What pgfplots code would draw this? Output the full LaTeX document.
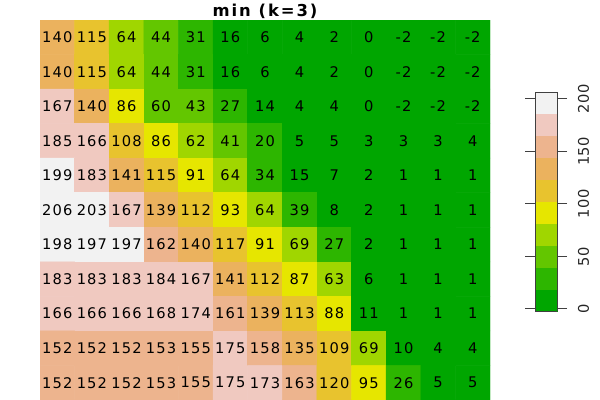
\documentclass[border=0pt]{standalone}
\usepackage{fontspec}
\setmainfont{DejaVu Sans}
\newfontfamily\cellfont{DejaVu Sans}[LetterSpace=8]
\newfontfamily\tickfont{DejaVu Sans}[LetterSpace=4]
\usepackage{pgfplots}
\usepackage{pgfplotstable}
\pgfplotsset{compat=1.18}
\pgfkeys{/pgf/number format/assume math mode=true}

\pgfplotstableread{
x y c
0 0 140
1 0 115
2 0 64
3 0 44
4 0 31
5 0 16
6 0 6
7 0 4
8 0 2
9 0 0
10 0 -2
11 0 -2
12 0 -2
0 1 140
1 1 115
2 1 64
3 1 44
4 1 31
5 1 16
6 1 6
7 1 4
8 1 2
9 1 0
10 1 -2
11 1 -2
12 1 -2
0 2 167
1 2 140
2 2 86
3 2 60
4 2 43
5 2 27
6 2 14
7 2 4
8 2 4
9 2 0
10 2 -2
11 2 -2
12 2 -2
0 3 185
1 3 166
2 3 108
3 3 86
4 3 62
5 3 41
6 3 20
7 3 5
8 3 5
9 3 3
10 3 3
11 3 3
12 3 4
0 4 199
1 4 183
2 4 141
3 4 115
4 4 91
5 4 64
6 4 34
7 4 15
8 4 7
9 4 2
10 4 1
11 4 1
12 4 1
0 5 206
1 5 203
2 5 167
3 5 139
4 5 112
5 5 93
6 5 64
7 5 39
8 5 8
9 5 2
10 5 1
11 5 1
12 5 1
0 6 198
1 6 197
2 6 197
3 6 162
4 6 140
5 6 117
6 6 91
7 6 69
8 6 27
9 6 2
10 6 1
11 6 1
12 6 1
0 7 183
1 7 183
2 7 183
3 7 184
4 7 167
5 7 141
6 7 112
7 7 87
8 7 63
9 7 6
10 7 1
11 7 1
12 7 1
0 8 166
1 8 166
2 8 166
3 8 168
4 8 174
5 8 161
6 8 139
7 8 113
8 8 88
9 8 11
10 8 1
11 8 1
12 8 1
0 9 152
1 9 152
2 9 152
3 9 153
4 9 155
5 9 175
6 9 158
7 9 135
8 9 109
9 9 69
10 9 10
11 9 4
12 9 4
0 10 152
1 10 152
2 10 152
3 10 153
4 10 155
5 10 175
6 10 173
7 10 163
8 10 120
9 10 95
10 10 26
11 10 5
12 10 5
}\datatable

\begin{document}
\begin{tikzpicture}[x=1pt,y=1pt]
\useasboundingbox (0,0) rectangle (450,300);
\begin{axis}[
  at={(30pt,0pt)}, anchor=south west,
  scale only axis, width=337.5pt, height=285pt,
  xmin=-0.5, xmax=12.5, ymin=-0.5, ymax=10.5, y dir=reverse,
  hide axis,
  title={min (k=3)},
  title style={at={(0.5,1)}, anchor=base, yshift=-3.5pt, inner sep=0pt,
    font=\fontsize{12.3}{12}\selectfont\bfseries\addfontfeatures{LetterSpace=12}},
  colormap={terrain}{rgb255=(0,166,0) rgb255=(45,182,0) rgb255=(99,198,0)
    rgb255=(160,214,0) rgb255=(230,230,0) rgb255=(232,195,46) rgb255=(235,178,94)
    rgb255=(237,180,142) rgb255=(240,201,192) rgb255=(242,242,242)},
  colormap access=piecewise constant,
  point meta min=-2, point meta max=206.5,
  colorbar,
  every colorbar/.append style={at={(parent axis.north east)}, anchor=north west,
    xshift=33.75pt, yshift=-54pt},
  colorbar shift/.style={},
  colorbar style={
    width=16.5pt, height=164.25pt,
    ytick={0,50,100,150,200},
    ytick align=outside, major tick length=7.5pt,
    yticklabel pos=right,
    axis line style={draw=black!75, line width=0.75pt},
    every tick/.style={draw=black!75, line width=0.75pt},
    yticklabel style={xshift=8pt, rotate=90, anchor=north, inner sep=0pt,
      font=\fontsize{11}{11}\selectfont\tickfont, text=black!85},
  },
]
\addplot[matrix plot*, mesh/cols=13, point meta=explicit] table[x=x, y=y, meta=c] {\datatable};
\addplot[draw=none, mark=none, nodes near coords, nodes near coords align=center,
  point meta=explicit symbolic,
  every node near coord/.append style={font=\fontsize{11}{11}\selectfont\cellfont, text=black, inner sep=0pt}]
  table[x=x, y=y, meta=c] {\datatable};
\end{axis}
\end{tikzpicture}
\end{document}
